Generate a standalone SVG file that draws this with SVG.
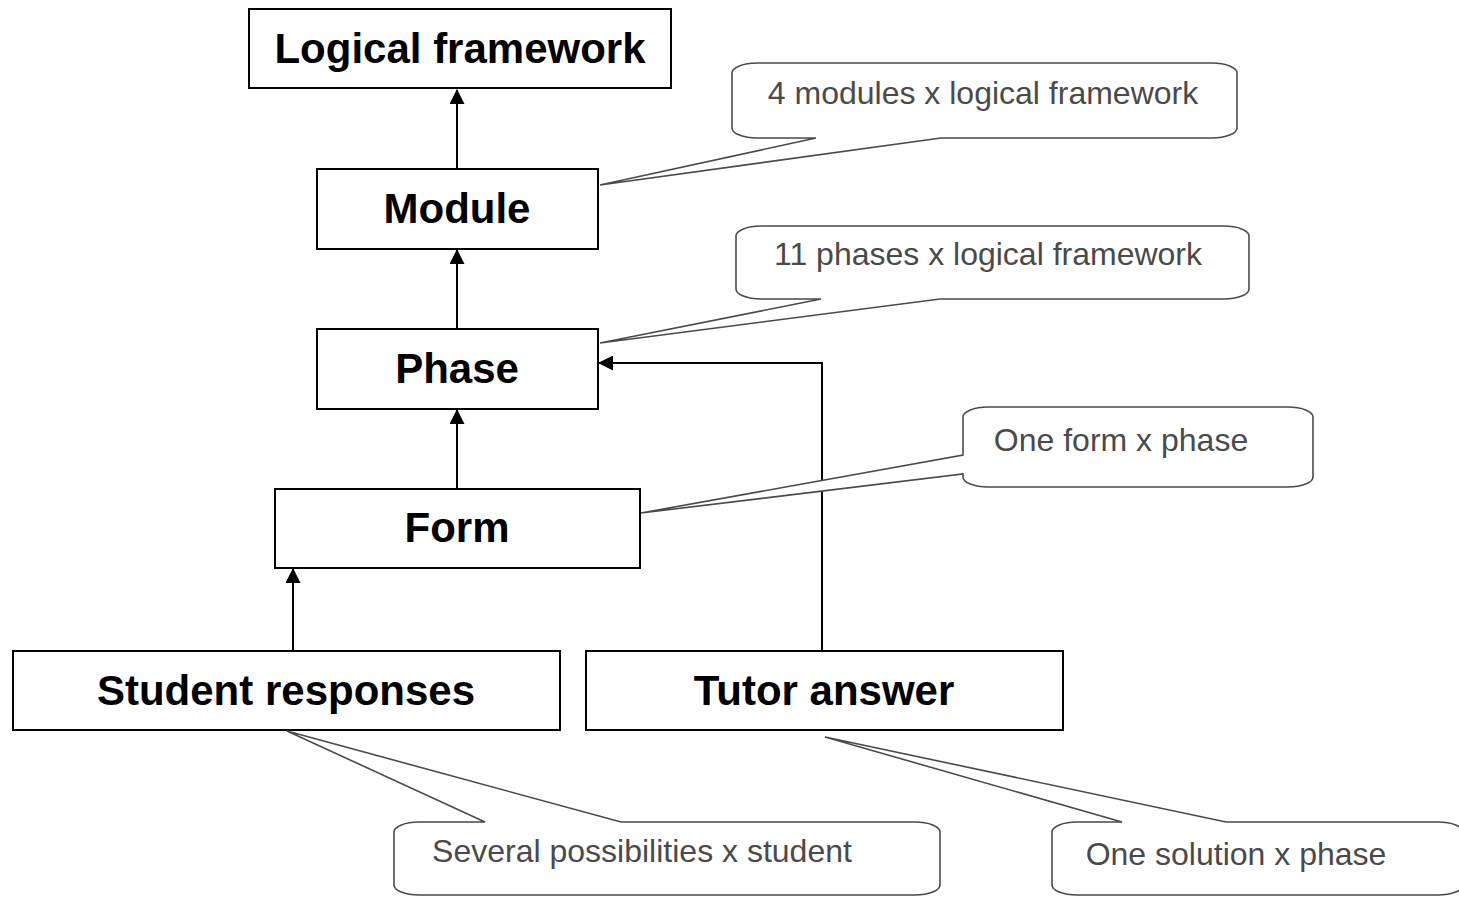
<svg xmlns="http://www.w3.org/2000/svg" width="1459" height="897" viewBox="0 0 1459 897">
<style>
.box{fill:#fff;stroke:#000;stroke-width:2}
.lbl{font-family:"Liberation Sans",Arial,sans-serif;font-weight:bold;font-size:42px;fill:#000;text-anchor:middle}
.co{fill:#fff;stroke:#4a4a4a;stroke-width:1.6;stroke-linejoin:miter}
.ct{font-family:"Liberation Sans",Arial,sans-serif;font-size:32px;fill:#4a4a4a;text-anchor:middle}
.conn{fill:none;stroke:#000;stroke-width:2}
</style>
<defs>
<marker id="ah" markerWidth="15" markerHeight="15" refX="14" refY="7.5" orient="auto" markerUnits="userSpaceOnUse">
<path d="M0,0 L15,7.5 L0,15 Z" fill="#000"/>
</marker>
</defs>
<rect width="1459" height="897" fill="#fff"/>
<g id="connectors">
<line class="conn" x1="457" y1="169" x2="457" y2="90" marker-end="url(#ah)"/>
<line class="conn" x1="457" y1="329" x2="457" y2="250" marker-end="url(#ah)"/>
<line class="conn" x1="457" y1="489" x2="457" y2="410" marker-end="url(#ah)"/>
<line class="conn" x1="293" y1="651" x2="293" y2="569" marker-end="url(#ah)"/>
<polyline class="conn" points="822,651 822,363 599,363" marker-end="url(#ah)"/>
</g>
<g id="node-logical-framework">
<rect class="box" x="249" y="9" width="422" height="79"/>
<text class="lbl" x="460" y="63">Logical framework</text>
</g>
<g id="node-module">
<rect class="box" x="317" y="169" width="281" height="80"/>
<text class="lbl" x="457" y="223">Module</text>
</g>
<g id="node-phase">
<rect class="box" x="317" y="329" width="281" height="80"/>
<text class="lbl" x="457" y="383">Phase</text>
</g>
<g id="node-form">
<rect class="box" x="275" y="489" width="365" height="79"/>
<text class="lbl" x="457" y="542">Form</text>
</g>
<g id="node-student-responses">
<rect class="box" x="13" y="651" width="547" height="79"/>
<text class="lbl" x="286" y="705">Student responses</text>
</g>
<g id="node-tutor-answer">
<rect class="box" x="586" y="651" width="477" height="79"/>
<text class="lbl" x="824" y="705">Tutor answer</text>
</g>
<g id="callout-modules">
<path class="co" d="M757,63 H1212 A25,10 0 0 1 1237,73 V128 A25,10 0 0 1 1212,138 H941 L600,185 L816,138 H757 A25,10 0 0 1 732,128 V73 A25,10 0 0 1 757,63 Z"/>
<text class="ct" x="983" y="104">4 modules x logical framework</text>
</g>
<g id="callout-phases">
<path class="co" d="M761,226 H1224 A25,10 0 0 1 1249,236 V289 A25,10 0 0 1 1224,299 H940 L600,343 L821,299 H761 A25,10 0 0 1 736,289 V236 A25,10 0 0 1 761,226 Z"/>
<text class="ct" x="988" y="265">11 phases x logical framework</text>
</g>
<g id="callout-form">
<path class="co" d="M988,407 H1288 A25,10 0 0 1 1313,417 V477 A25,10 0 0 1 1288,487 H988 A25,10 0 0 1 963,477 V474 L641,513 L963,455 V417 A25,10 0 0 1 988,407 Z"/>
<text class="ct" x="1121" y="451">One form x phase</text>
</g>
<g id="callout-student">
<path class="co" d="M419,822 H485 L287,731 L621,822 H915 A25,10 0 0 1 940,832 V885 A25,10 0 0 1 915,895 H419 A25,10 0 0 1 394,885 V832 A25,10 0 0 1 419,822 Z"/>
<text class="ct" x="642" y="862">Several possibilities x student</text>
</g>
<g id="callout-tutor">
<path class="co" d="M1077,822 H1122 L825,737 L1226,822 H1438 A25,10 0 0 1 1463,832 V885 A25,10 0 0 1 1438,895 H1077 A25,10 0 0 1 1052,885 V832 A25,10 0 0 1 1077,822 Z"/>
<text class="ct" x="1236" y="865">One solution x phase</text>
</g>
</svg>
